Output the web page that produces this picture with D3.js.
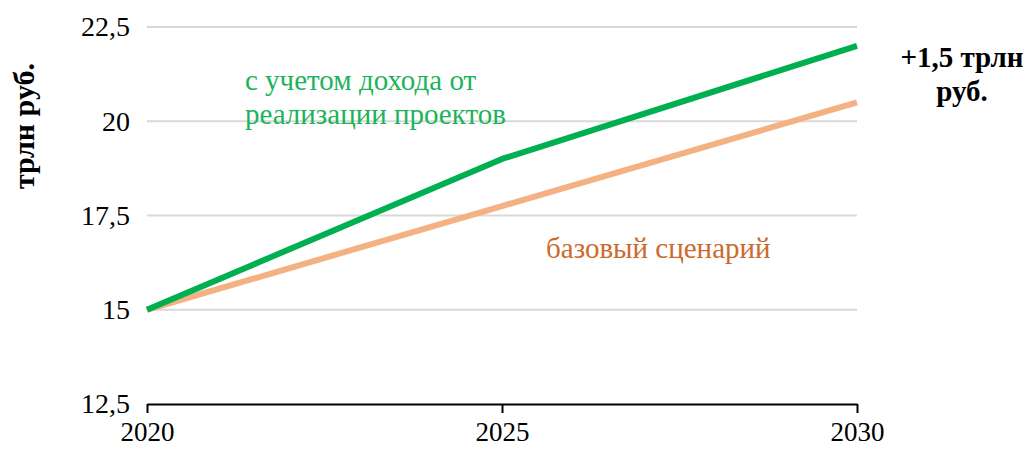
<!DOCTYPE html>
<html>
<head>
<meta charset="utf-8">
<script src="https://cdn.jsdelivr.net/npm/d3@7"></script>
<style>
  html, body { margin: 0; padding: 0; background: #fff; font-family: "Liberation Serif", serif; }
</style>
</head>
<body>
<svg id="chart" width="1028" height="451"></svg>
<script>
// Revenue scenarios, trillion rubles
const years = [2020, 2025, 2030];
const withProjects = [15, 19, 22];
const baseline = [15, 17.75, 20.5];
const yTicks = [12.5, 15, 17.5, 20, 22.5];

const FONT = "font-family: 'Liberation Serif', 'Times New Roman', serif";

const svg = d3.select("#chart");
const x = d3.scaleLinear().domain([2020, 2030]).range([147, 857]);
const y = d3.scaleLinear().domain([12.5, 22.5]).range([404, 27]);
const fmt = v => String(v).replace(".", ",");

// horizontal gridlines
svg.append("g")
  .selectAll("line")
  .data(yTicks.filter(t => t > 12.5))
  .join("line")
  .attr("x1", x(2020)).attr("x2", x(2030))
  .attr("y1", d => y(d)).attr("y2", d => y(d))
  .attr("stroke", "#d9d9d9").attr("stroke-width", 2);

// y axis labels
const yAxis = svg.append("g")
  .attr("transform", `translate(${x(2020)},0)`)
  .call(d3.axisLeft(y).tickValues(yTicks).tickFormat(fmt).tickSize(0).tickPadding(17));
yAxis.select(".domain").remove();
yAxis.attr("font-family", "Liberation Serif").attr("font-size", 28);
yAxis.selectAll("text").attr("style", FONT).attr("fill", "#000");

// x axis
const xAxis = svg.append("g")
  .attr("transform", `translate(0,${y(12.5)})`)
  .call(d3.axisBottom(x).tickValues(years).tickFormat(d3.format("d")).tickSizeInner(8).tickSizeOuter(0).tickPadding(10));
xAxis.attr("font-family", "Liberation Serif").attr("font-size", 27);
xAxis.select(".domain").attr("stroke", "#000").attr("stroke-width", 2);
xAxis.selectAll(".tick line").attr("stroke", "#000").attr("stroke-width", 2).attr("y1", 0).attr("y2", 9);
xAxis.selectAll("text").attr("style", FONT).attr("fill", "#000");

// series lines
const line = d3.line().x((d, i) => x(years[i])).y(d => y(d));
svg.append("path").datum(baseline)
  .attr("d", line).attr("fill", "none")
  .attr("stroke", "#f4b183").attr("stroke-width", 6).attr("stroke-linejoin", "round");
svg.append("path").datum(withProjects)
  .attr("d", line).attr("fill", "none")
  .attr("stroke", "#00b050").attr("stroke-width", 6).attr("stroke-linejoin", "round");

// y axis title
svg.append("text")
  .attr("transform", "translate(34,126) rotate(-90)")
  .attr("text-anchor", "middle")
  .attr("style", FONT)
  .attr("font-size", 30).attr("font-weight", "bold")
  .text("трлн руб.");

// series annotations
const greenLabel = svg.append("text")
  .attr("style", FONT)
  .attr("fill", "#1db35a").attr("font-size", 29);
greenLabel.append("tspan").attr("x", 245).attr("y", 90).text("с учетом дохода от");
greenLabel.append("tspan").attr("x", 245).attr("y", 124).text("реализации проектов");

svg.append("text")
  .attr("x", 546).attr("y", 258)
  .attr("style", FONT)
  .attr("fill", "#cc6a2e").attr("font-size", 29)
  .text("базовый сценарий");

// difference note
const note = svg.append("text")
  .attr("style", FONT)
  .attr("text-anchor", "middle").attr("font-size", 29).attr("font-weight", "bold");
note.append("tspan").attr("x", 962).attr("y", 67).text("+1,5 трлн");
note.append("tspan").attr("x", 962).attr("y", 101).text("руб.");
</script>
</body>
</html>
